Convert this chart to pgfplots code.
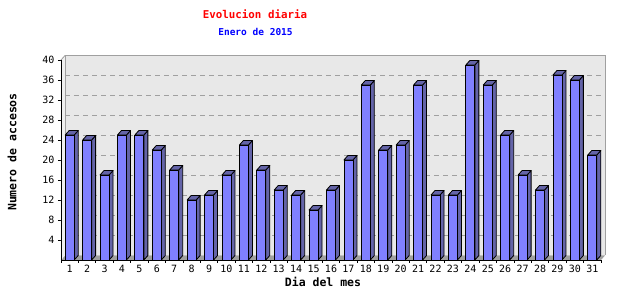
\documentclass[border=0pt]{standalone}
\usepackage{pgfplots}
\pgfplotsset{compat=1.18}
\usepackage{fontspec}
\setmainfont{DejaVu Sans Mono}
\definecolor{barfront}{RGB}{128,128,255}
\definecolor{barside}{RGB}{100,100,168}
\definecolor{wallc}{RGB}{232,232,232}
\definecolor{lwallc}{RGB}{240,240,240}
\definecolor{floorc}{RGB}{160,160,160}
\definecolor{gridc}{RGB}{160,160,160}
\newcommand\barh{0}
\pgfdeclareplotmark{bar3d}{%
  \pgfmathsetlengthmacro\hh{\barh*5pt}%
  \pgfsetlinewidth{0.8pt}%
  \pgfsetstrokecolor{black}%
  \pgfsetroundjoin
  % side
  \pgfpathmoveto{\pgfpoint{4.5pt}{-\hh}}%
  \pgfpathlineto{\pgfpoint{8.5pt}{-\hh+4.5pt}}%
  \pgfpathlineto{\pgfpoint{8.5pt}{4.5pt}}%
  \pgfpathlineto{\pgfpoint{4.5pt}{0pt}}%
  \pgfpathclose
  \pgfsetfillcolor{barside}%
  \pgfusepath{fill,stroke}%
  % top
  \pgfpathmoveto{\pgfpoint{-4.5pt}{0pt}}%
  \pgfpathlineto{\pgfpoint{4.5pt}{0pt}}%
  \pgfpathlineto{\pgfpoint{8.5pt}{4.5pt}}%
  \pgfpathlineto{\pgfpoint{-0.5pt}{4.5pt}}%
  \pgfpathclose
  \pgfsetfillcolor{barside}%
  \pgfusepath{fill,stroke}%
  % front
  \pgfpathrectangle{\pgfpoint{-4.5pt}{-\hh}}{\pgfpoint{9pt}{\hh}}%
  \pgfsetfillcolor{barfront}%
  \pgfusepath{fill,stroke}%
}
\pgfplotstableread{
d v
1 25
2 24
3 17
4 25
5 25
6 22
7 18
8 12
9 13
10 17
11 23
12 18
13 14
14 13
15 10
16 14
17 20
18 35
19 22
20 23
21 35
22 13
23 13
24 39
25 35
26 25
27 17
28 14
29 37
30 36
31 21
}\datatable
\begin{document}
\begin{tikzpicture}
\useasboundingbox (0,0) rectangle (640pt,300pt);
\begin{axis}[
  at={(61pt,40pt)}, anchor=south west,
  scale only axis, width=540pt, height=200pt,
  xmin=0.5, xmax=31.5, ymin=0, ymax=40,
  enlargelimits=false, clip=false,
  axis line style={draw=none},
  tick align=outside,
  xtick={1,...,31},
  minor xtick={0.5,1.5,...,31.5},
  major x tick style={draw=none},
  ytick={4,8,...,40},
  major tick length=3pt, minor tick length=3pt,
  tick style={black, line width=0.8pt},
  xtick pos=bottom, ytick pos=left,
  /pgf/number format/assume math mode=true,
  ticklabel style={font=\fontsize{10}{12}\selectfont},
  xticklabel style={yshift=1.5pt},
]
% floor
\fill[floorc] (axis cs:0.5,0) -- (axis cs:31.5,0) -- ([shift={(4pt,4.5pt)}]axis cs:31.5,0) -- ([shift={(4pt,4.5pt)}]axis cs:0.5,0) -- cycle;
% left wall
\fill[lwallc] (axis cs:0.5,0) -- (axis cs:0.5,40) -- ([shift={(4pt,4.5pt)}]axis cs:0.5,40) -- ([shift={(4pt,4.5pt)}]axis cs:0.5,0) -- cycle;
% back wall
\fill[wallc] ([shift={(4pt,4.5pt)}]axis cs:0.5,0) rectangle ([shift={(4pt,4.5pt)}]axis cs:31.5,40);
\pgfplotsinvokeforeach{4,8,...,36}{
  \draw[gridc, line width=0.8pt, dash pattern=on 5pt off 4pt] ([shift={(4pt,4.5pt)}]axis cs:0.5,#1) -- ([shift={(4pt,4.5pt)}]axis cs:31.5,#1);
}
\draw[gridc, line width=0.9pt] ([shift={(4pt,4.5pt)}]axis cs:0.5,0) -- ([shift={(4pt,4.5pt)}]axis cs:0.5,40) -- ([shift={(4pt,4.5pt)}]axis cs:31.5,40) -- ([shift={(4pt,4.5pt)}]axis cs:31.5,0);
\draw[gridc, line width=0.8pt] (axis cs:0.5,40) -- ([shift={(4pt,4.5pt)}]axis cs:0.5,40);
\draw[black, line width=0.8pt] (axis cs:0.5,40) -- (axis cs:0.5,0) -- (axis cs:31.5,0);
\addplot[scatter, only marks, mark=bar3d, visualization depends on={rawy \as \barh}] table[x=d, y=v] {\datatable};
\end{axis}
\node[text=red, font=\bfseries\fontsize{10.8}{13}\selectfont] at (255pt,286pt) {Evolucion diaria};
\node[text=blue, font=\bfseries\fontsize{9.5}{11}\selectfont] at (255.5pt,268pt) {Enero de 2015};
\node[rotate=90, font=\bfseries\fontsize{11.5}{13}\selectfont] at (12pt,148pt) {Numero de accesos};
\node[font=\bfseries\fontsize{11.5}{13}\selectfont] at (323pt,18.5pt) {Dia del mes};
\end{tikzpicture}
\end{document}
